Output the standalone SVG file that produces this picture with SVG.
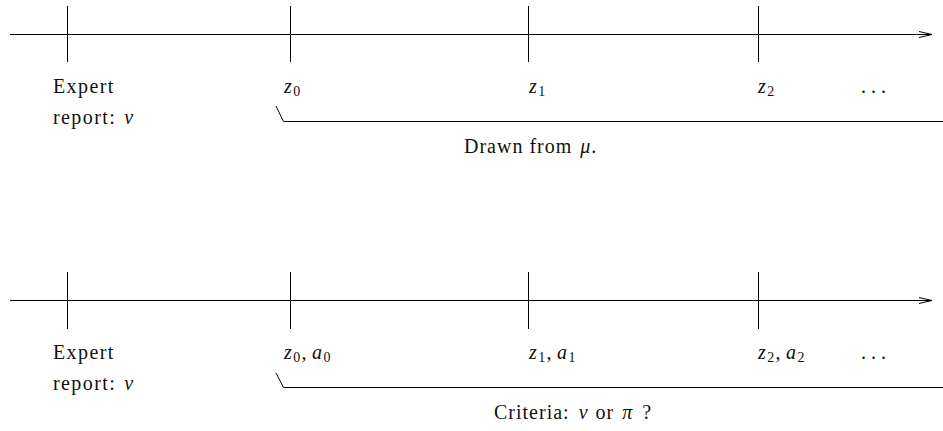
<svg xmlns="http://www.w3.org/2000/svg" width="943" height="431" viewBox="0 0 943 431">
<style>
  .ln { stroke: #000; stroke-width: 1; fill: none; }
  .t { font-family: "Liberation Serif", "Times New Roman", serif; font-size: 20px; fill: #111; letter-spacing: 1.4px; }
  .c { letter-spacing: 1px; }
  .d { letter-spacing: 0; }
  .m { font-style: italic; }
  .s { font-size: 14px; font-style: normal; }
</style>
<defs>
  <marker id="arr" viewBox="0 0 16 8" refX="14" refY="4" markerWidth="16" markerHeight="8" markerUnits="userSpaceOnUse" orient="auto">
    <path d="M1,1 L14,4 L1,7" class="ln"/>
  </marker>
</defs>
<rect width="943" height="431" fill="#fff"/>

<g id="connectors">
  <line class="ln" x1="10" y1="34.5" x2="932" y2="34.5" marker-end="url(#arr)"/>
  <polyline class="ln" points="276,106 283.5,121.5 943,121.5"/>
  <line class="ln" x1="10" y1="300.5" x2="932" y2="300.5" marker-end="url(#arr)"/>
  <polyline class="ln" points="276,373 283.5,387.5 943,387.5"/>
</g>

<g id="timeline-top">
  <g id="top-expert">
    <line class="ln" x1="67.5" y1="6" x2="67.5" y2="62"/>
    <text class="t" x="53" y="93">Expert</text>
    <text class="t" x="53" y="124">report:<tspan class="m" dx="8">ν</tspan></text>
  </g>
  <g id="top-z0">
    <line class="ln" x1="290.5" y1="6" x2="290.5" y2="62"/>
    <text class="t" x="284" y="93"><tspan class="m">z</tspan><tspan class="s" dy="3">0</tspan></text>
  </g>
  <g id="top-z1">
    <line class="ln" x1="528.5" y1="6" x2="528.5" y2="62"/>
    <text class="t" x="529" y="93"><tspan class="m">z</tspan><tspan class="s" dy="3">1</tspan></text>
  </g>
  <g id="top-z2">
    <line class="ln" x1="758.5" y1="6" x2="758.5" y2="62"/>
    <text class="t" x="758" y="93"><tspan class="m">z</tspan><tspan class="s" dy="3">2</tspan></text>
  </g>
  <g id="top-dots">
    <text class="t d" x="861" y="93">. . .</text>
  </g>
  <g id="top-caption">
    <text class="t c" x="464" y="153">Drawn from <tspan class="m" dx="2">μ</tspan>.</text>
  </g>
</g>

<g id="timeline-bottom">
  <g id="bot-expert">
    <line class="ln" x1="67.5" y1="272" x2="67.5" y2="329"/>
    <text class="t" x="53" y="359">Expert</text>
    <text class="t" x="53" y="390">report:<tspan class="m" dx="8">ν</tspan></text>
  </g>
  <g id="bot-z0">
    <line class="ln" x1="290.5" y1="272" x2="290.5" y2="329"/>
    <text class="t" x="284" y="359"><tspan class="m">z</tspan><tspan class="s" dy="3">0</tspan><tspan dy="-3">,</tspan><tspan class="m" dx="4">a</tspan><tspan class="s" dy="3">0</tspan></text>
  </g>
  <g id="bot-z1">
    <line class="ln" x1="528.5" y1="272" x2="528.5" y2="329"/>
    <text class="t" x="529" y="359"><tspan class="m">z</tspan><tspan class="s" dy="3">1</tspan><tspan dy="-3">,</tspan><tspan class="m" dx="4">a</tspan><tspan class="s" dy="3">1</tspan></text>
  </g>
  <g id="bot-z2">
    <line class="ln" x1="758.5" y1="272" x2="758.5" y2="329"/>
    <text class="t" x="758" y="359"><tspan class="m">z</tspan><tspan class="s" dy="3">2</tspan><tspan dy="-3">,</tspan><tspan class="m" dx="4">a</tspan><tspan class="s" dy="3">2</tspan></text>
  </g>
  <g id="bot-dots">
    <text class="t d" x="861" y="359">. . .</text>
  </g>
  <g id="bot-caption">
    <text class="t c" x="494" y="419">Criteria:<tspan class="m" dx="9">ν</tspan><tspan dx="7">or</tspan><tspan class="m" dx="8">π</tspan><tspan dx="9">?</tspan></text>
  </g>
</g>
</svg>
